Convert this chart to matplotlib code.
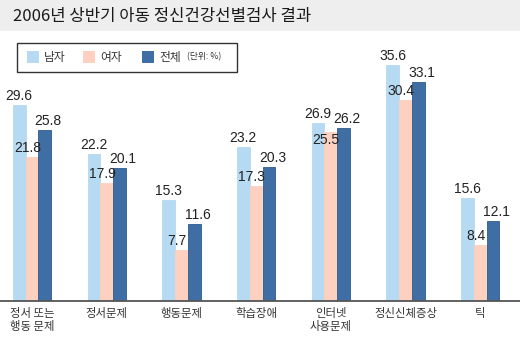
import matplotlib
matplotlib.use("Agg")
import matplotlib.pyplot as plt
from matplotlib.patches import Rectangle
import numpy as np

plt.rcParams['font.family'] = ['Noto Sans CJK KR', 'DejaVu Sans']

categories = ["정서 또는\n행동 문제", "정서문제", "행동문제", "학습장애", "인터넷\n사용문제", "정신신체증상", "틱"]
male = [29.6, 22.2, 15.3, 23.2, 26.9, 35.6, 15.6]
female = [21.8, 17.9, 7.7, 17.3, 25.5, 30.4, 8.4]
total = [25.8, 20.1, 11.6, 20.3, 26.2, 33.1, 12.1]
series_names = ["남자", "여자", "전체"]
colors = ["#b5daf2", "#fdd0bf", "#3f6ea5"]
title = "2006년 상반기 아동 정신건강선별검사 결과"
unit = "(단위: %)"

W, H = 520, 337
fig = plt.figure(figsize=(W / 100, H / 100), dpi=100)
fx = lambda px: px / W
fy = lambda py: 1 - py / H

# title bar
fig.patches.append(Rectangle((0, fy(31)), 1, 1 - fy(31), transform=fig.transFigure,
                             facecolor="#eeeeee", edgecolor="none", zorder=0))
fig.text(fx(13), fy(16), title, fontsize=12, va="center", ha="left", color="#1a1a1a",
         fontweight="medium")

# legend box
fig.patches.append(Rectangle((fx(17), fy(72)), fx(237) - fx(17), fy(43) - fy(72),
                             transform=fig.transFigure, facecolor="white",
                             edgecolor="#333333", linewidth=1.0))
leg_x = [27, 83, 142]
for i, (name, c) in enumerate(zip(series_names, colors)):
    fig.patches.append(Rectangle((fx(leg_x[i]), fy(63)), fx(12), fy(51) - fy(63),
                                 transform=fig.transFigure, facecolor=c, edgecolor="none"))
    fig.text(fx(leg_x[i] + 17), fy(57), name, fontsize=8.5, va="center", ha="left", color="#333333")
fig.text(fx(187), fy(57), unit, fontsize=6.3, va="center", ha="left", color="#333333")

# axes
spacing = 74.7
c0 = 32
y0 = 301
ppu = 6.62
ymax = 40
ax = fig.add_axes([0, fy(y0), 1, fy(y0 - ymax * ppu) - fy(y0)])
ax.set_xlim(-c0 / spacing, (W - c0) / spacing)
ax.set_ylim(0, ymax)
ax.patch.set_alpha(0)

x = np.arange(len(categories))
bw = 12.8 / spacing
series = [male, female, total]
offsets = [-bw, 0, bw]
label_dx = [0, -4.5, 3.5]  # px
special_dy = {(1, 4): -17}  # (series, group): px shift for a crowded label
for si, (s, off, c, dx) in enumerate(zip(series, offsets, colors, label_dx)):
    ec = "#2f5a8c" if si == 2 else c
    ax.bar(x + off, s, width=bw, color=c, edgecolor=ec, linewidth=0.6, zorder=2)
    for gi, (xi, v) in enumerate(zip(x + off, s)):
        dy = 5 + special_dy.get((si, gi), 0)
        ax.annotate(f"{v:.1f}", xy=(xi, v), xytext=(dx * 0.72, dy * 0.72), textcoords="offset points",
                    ha="center", va="baseline", fontsize=10, color="#222222",
                    family=["Liberation Sans Narrow", "Liberation Sans"], zorder=5)

for side in ["top", "left", "right"]:
    ax.spines[side].set_visible(False)
ax.spines["bottom"].set_color("#555555")
ax.spines["bottom"].set_linewidth(1.3)
ax.set_yticks([])
ax.set_xticks(x)
ax.set_xticklabels(categories, fontsize=8.2, color="#333333", linespacing=1.25)
ax.tick_params(axis="x", length=0, pad=5)

fig.savefig("out.png", dpi=100)
